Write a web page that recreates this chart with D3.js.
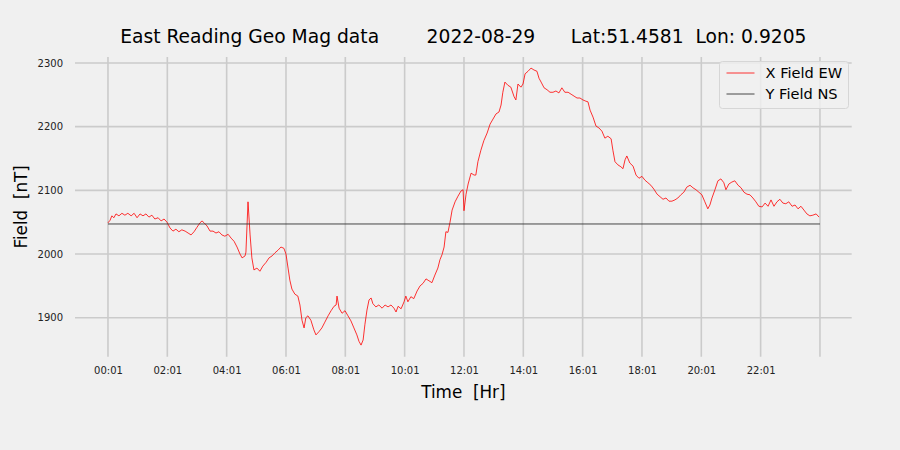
<!DOCTYPE html>
<html><head><meta charset="utf-8">
<script src="https://cdn.jsdelivr.net/npm/d3@7"></script>
<style>body{margin:0;background:#f0f0f0;} svg{display:block;} text{font-family:"DejaVu Sans",sans-serif;}</style>
</head><body><svg id="c" width="900" height="450"></svg>
<script>
const hours = [0.00,0.07,0.13,0.20,0.27,0.37,0.47,0.57,0.67,0.78,0.88,0.98,1.08,1.18,1.28,1.38,1.48,1.58,1.69,1.79,1.89,1.99,2.09,2.19,2.29,2.39,2.49,2.60,2.70,2.80,2.90,3.00,3.10,3.17,3.24,3.34,3.44,3.54,3.64,3.74,3.84,3.94,4.05,4.15,4.25,4.35,4.45,4.52,4.62,4.65,4.72,4.79,4.85,4.92,5.02,5.12,5.22,5.33,5.43,5.53,5.63,5.73,5.83,5.93,6.00,6.07,6.13,6.20,6.30,6.40,6.47,6.54,6.61,6.67,6.74,6.84,6.94,7.01,7.11,7.21,7.31,7.42,7.52,7.62,7.69,7.72,7.79,7.89,7.99,8.09,8.19,8.29,8.39,8.46,8.53,8.60,8.66,8.73,8.80,8.87,8.93,9.03,9.13,9.24,9.34,9.44,9.54,9.64,9.71,9.78,9.88,9.98,10.04,10.11,10.21,10.31,10.42,10.52,10.62,10.72,10.82,10.92,11.02,11.12,11.19,11.26,11.33,11.39,11.46,11.53,11.60,11.70,11.80,11.90,11.97,12.00,12.07,12.14,12.24,12.34,12.40,12.47,12.57,12.67,12.78,12.88,12.98,13.08,13.18,13.25,13.31,13.38,13.48,13.58,13.69,13.75,13.82,13.92,13.99,14.06,14.16,14.26,14.36,14.46,14.53,14.60,14.70,14.80,14.90,15.00,15.10,15.20,15.30,15.40,15.51,15.61,15.71,15.81,15.91,16.01,16.11,16.18,16.25,16.35,16.45,16.55,16.65,16.75,16.85,16.96,17.02,17.09,17.19,17.29,17.36,17.43,17.49,17.59,17.70,17.80,17.90,18.00,18.10,18.20,18.30,18.40,18.51,18.61,18.71,18.81,18.91,19.01,19.11,19.21,19.31,19.41,19.51,19.62,19.72,19.82,19.92,20.02,20.12,20.22,20.29,20.36,20.46,20.56,20.66,20.76,20.83,20.93,21.03,21.13,21.24,21.34,21.44,21.54,21.64,21.74,21.84,21.94,22.05,22.15,22.25,22.35,22.45,22.55,22.65,22.75,22.85,22.95,23.06,23.16,23.26,23.36,23.46,23.56,23.66,23.76,23.87,23.97];
const xFieldEW = [2049,2053,2060,2057,2063,2060,2064,2061,2064,2060,2064,2057,2063,2060,2063,2058,2061,2055,2057,2052,2055,2050,2041,2036,2039,2035,2038,2036,2033,2030,2035,2042,2049,2052,2049,2044,2036,2036,2033,2035,2030,2028,2031,2025,2020,2011,2000,1994,1997,2003,2082,2030,1994,1975,1978,1973,1981,1987,1994,1997,2002,2006,2011,2009,2000,1978,1959,1945,1937,1934,1920,1896,1884,1900,1903,1896,1881,1873,1878,1884,1893,1903,1911,1918,1920,1934,1915,1907,1911,1903,1895,1884,1873,1863,1857,1865,1889,1912,1928,1931,1922,1917,1920,1915,1920,1917,1920,1915,1909,1918,1914,1925,1934,1925,1933,1930,1942,1950,1954,1961,1958,1955,1967,1978,1991,1999,2011,2035,2034,2050,2069,2082,2091,2099,2101,2068,2094,2110,2127,2124,2124,2145,2163,2178,2190,2204,2212,2220,2223,2234,2254,2270,2265,2262,2247,2242,2267,2262,2267,2283,2287,2292,2289,2287,2276,2270,2261,2258,2254,2254,2256,2253,2261,2254,2254,2251,2248,2245,2245,2242,2240,2239,2226,2215,2201,2198,2193,2182,2185,2181,2163,2145,2140,2137,2134,2148,2154,2143,2138,2124,2119,2122,2116,2112,2108,2102,2094,2090,2086,2088,2083,2083,2085,2088,2093,2097,2105,2108,2104,2101,2097,2093,2082,2071,2077,2088,2101,2115,2118,2112,2101,2110,2113,2115,2108,2104,2097,2094,2093,2088,2082,2075,2074,2080,2075,2085,2075,2082,2086,2080,2079,2082,2075,2077,2071,2075,2069,2063,2060,2061,2063,2058];
const yFieldNSHours = [0, 24];
const yFieldNS = [2047.2, 2047.2];
const xTickHours = [0,2,4,6,8,10,12,14,16,18,20,22,24];
const xTickLabels = ["00:01","02:01","04:01","06:01","08:01","10:01","12:01","14:01","16:01","18:01","20:01","22:01",""];
const yTicks = [1900,2000,2100,2200,2300];
const seriesNames = ["X Field EW","Y Field NS"];
const seriesColors = ["#ff0000","#333333"];

const svg = d3.select("#c");
const L=75, R=851.7, T=57, B=356.7;
const x = d3.scaleLinear().domain([-1.112, 25.07]).range([L,R]);
const y = d3.scaleLinear().domain([1838.8, 2309.4]).range([B,T]);

// grid
svg.append("g").selectAll("line").data(yTicks).join("line")
  .attr("x1",L).attr("x2",R).attr("y1",d=>y(d)).attr("y2",d=>y(d))
  .attr("stroke","#cbcbcb").attr("stroke-width",1.6);
svg.append("g").selectAll("line").data(xTickHours).join("line")
  .attr("y1",T).attr("y2",B).attr("x1",d=>x(d)).attr("x2",d=>x(d))
  .attr("stroke","#cbcbcb").attr("stroke-width",1.6);

// axes (labels only)
const xa = svg.append("g").attr("transform",`translate(0,${B})`)
  .call(d3.axisBottom(x).tickValues(xTickHours).tickFormat((d,i)=>xTickLabels[i]).tickSize(0).tickPadding(10));
xa.select(".domain").remove();
xa.selectAll("text").attr("font-size",10).attr("fill","#222").style("font-family","DejaVu Sans");
const ya = svg.append("g").attr("transform",`translate(${L},0)`)
  .call(d3.axisLeft(y).tickValues(yTicks).tickFormat(d3.format("d")).tickSize(0).tickPadding(12));
ya.select(".domain").remove();
ya.selectAll("text").attr("font-size",10).attr("fill","#222").style("font-family","DejaVu Sans");

// lines
const line = d3.line().x(d=>x(d[0])).y(d=>y(d[1]));
svg.append("path").datum(hours.map((h,i)=>[h,xFieldEW[i]]))
  .attr("d",line).attr("fill","none").attr("stroke",seriesColors[0]).attr("stroke-width",0.8).attr("stroke-linejoin","miter");
svg.append("path").datum(yFieldNSHours.map((h,i)=>[h,yFieldNS[i]]))
  .attr("d",line).attr("fill","none").attr("stroke",seriesColors[1]).attr("stroke-width",0.9);

// title & labels
svg.append("text").attr("x",(L+R)/2).attr("y",43).attr("text-anchor","middle")
  .attr("font-size",18.7).attr("fill","#000").style("white-space","pre")
  .text("East Reading Geo Mag data        2022-08-29      Lat:51.4581  Lon: 0.9205");
svg.append("text").attr("x",(L+R)/2).attr("y",398).attr("text-anchor","middle")
  .attr("font-size",16.8).attr("fill","#000").style("white-space","pre").text("Time  [Hr]");
svg.append("text").attr("transform",`translate(27,${(T+B)/2}) rotate(-90)`).attr("text-anchor","middle")
  .attr("font-size",16.8).attr("fill","#000").style("white-space","pre").text("Field  [nT]");

// legend
const lg = svg.append("g").attr("transform","translate(719.5,61.5)");
lg.append("rect").attr("width",129).attr("height",47).attr("rx",3)
  .attr("fill","#f0f0f0").attr("fill-opacity",0.8).attr("stroke","#d6d6d6").attr("stroke-width",1);
seriesNames.forEach((n,i)=>{
  const yy = 11.5 + i*21;
  lg.append("line").attr("x1",7).attr("x2",35).attr("y1",yy).attr("y2",yy)
    .attr("stroke",seriesColors[i]).attr("stroke-width",i===0?0.8:0.9);
  lg.append("text").attr("x",46).attr("y",yy+5).attr("font-size",14.6).attr("fill","#000").text(n);
});
</script></body></html>
